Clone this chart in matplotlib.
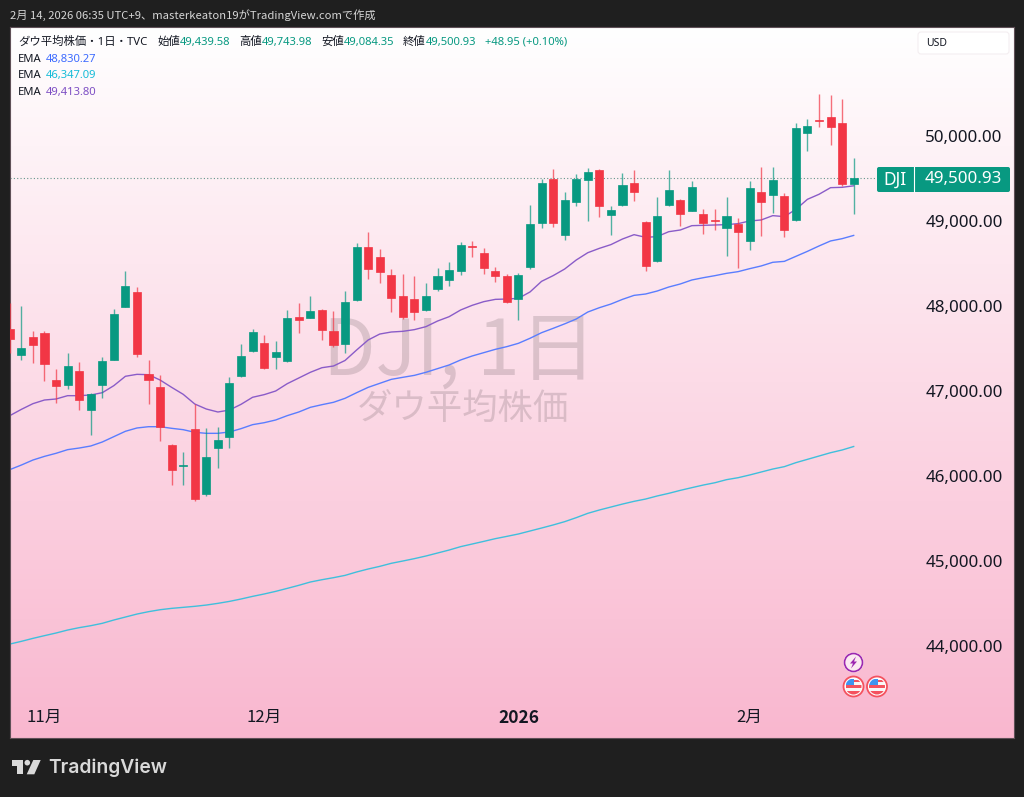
import matplotlib

matplotlib.use("Agg")
import matplotlib.pyplot as plt
import numpy as np
from matplotlib.patches import Circle, FancyBboxPatch, Polygon, Rectangle

opens = [47733, 47424, 47639, 47679, 47129, 47074, 47239, 46776, 47074, 47368,
         47992, 48161, 47204, 47047, 46365, 46118, 46549, 45788, 46333, 46462,
         47176, 47467, 47565, 47396, 47353, 47874, 47862, 47956, 47709, 47553,
         48067, 48698, 48576, 48365, 48114, 48082, 47953, 48196, 48302, 48412,
         48709, 48620, 48415, 48353, 48086, 48455, 48973, 49494, 48835, 49220,
         49482, 49600, 49071, 49185, 49451, 48992, 48529, 49185, 49247, 49121,
         49086, 49012, 48921, 48968, 48761, 49341, 49306, 49294, 49012, 50032,
         50188, 50227, 50156, 49439.58]
highs = [48032, 48000, 47706, 47700, 47255, 47444, 47341, 46980, 47396, 47961,
         48415, 48220, 47365, 47188, 46375, 46286, 46847, 46561, 46573, 47165,
         47553, 47733, 47659, 47585, 47953, 48032, 48118, 47965, 47941, 48180,
         48738, 48871, 48667, 48435, 48373, 48349, 48274, 48444, 48514, 48756,
         48768, 48686, 48455, 48376, 48385, 49192, 49494, 49608, 49338, 49553,
         49620, 49610, 49180, 49565, 49600, 49000, 49279, 49596, 49255, 49474,
         49138, 49138, 49279, 49032, 49467, 49639, 49632, 49326, 50149, 50204,
         50494, 50482, 50432, 49743.98]
lows = [47444, 47365, 47333, 47121, 46862, 47027, 46776, 46482, 46921, 47360,
        47985, 47396, 46851, 46415, 45894, 45894, 45709, 45768, 46091, 46326,
        47170, 47459, 47259, 47255, 47345, 47679, 47855, 47600, 47521, 47451,
        48060, 48321, 48274, 47933, 47847, 47835, 47945, 48180, 48239, 48368,
        48576, 48376, 48286, 48039, 47835, 48439, 48914, 48933, 48776, 49180,
        49000, 49047, 48835, 49180, 49235, 48412, 48520, 49180, 48945, 49115,
        48851, 48891, 48585, 48447, 48662, 48824, 49098, 48815, 49005, 49827,
        50106, 49891, 49412, 49084.35]
closes = [47615, 47502, 47545, 47318, 47062, 47294, 46894, 46968, 47353, 47909,
          48239, 47435, 47126, 46573, 46071, 46129, 45733, 46227, 46427, 47094,
          47412, 47698, 47271, 47459, 47862, 47835, 47941, 47718, 47541, 48044,
          48691, 48439, 48396, 48098, 47867, 47933, 48118, 48349, 48427, 48714,
          48698, 48444, 48353, 48044, 48365, 48961, 49447, 48980, 49247, 49491,
          49576, 49173, 49133, 49427, 49341, 48471, 49059, 49368, 49079, 49400,
          48980, 49004, 49055, 48874, 49392, 49224, 49486, 48891, 50098, 50121,
          50180, 50106, 49432, 49500.93]

ema_blue = [46075, 46129, 46188, 46231, 46267, 46310, 46329, 46353, 46400, 46463,
            46526, 46565, 46580, 46580, 46561, 46545, 46514, 46502, 46502, 46518,
            46557, 46604, 46627, 46659, 46710, 46753, 46808, 46839, 46867, 46914,
            46980, 47043, 47090, 47137, 47161, 47184, 47220, 47263, 47306, 47365,
            47412, 47451, 47490, 47522, 47561, 47620, 47686, 47737, 47790, 47847,
            47929, 47980, 48023, 48078, 48125, 48141, 48176, 48223, 48259, 48306,
            48333, 48357, 48384, 48404, 48439, 48471, 48514, 48525, 48584, 48643,
            48706, 48765, 48792, 48830.27]
ema_cyan = [44023, 44055, 44090, 44122, 44153, 44188, 44216, 44239, 44267, 44306,
            44341, 44376, 44404, 44427, 44443, 44455, 44467, 44482, 44502, 44525,
            44553, 44584, 44612, 44643, 44678, 44714, 44753, 44780, 44804, 44831,
            44871, 44906, 44937, 44973, 45000, 45028, 45059, 45094, 45129, 45169,
            45200, 45231, 45263, 45290, 45318, 45353, 45388, 45424, 45463, 45510,
            45561, 45600, 45635, 45670, 45702, 45729, 45765, 45796, 45831, 45863,
            45894, 45921, 45957, 45980, 46012, 46047, 46082, 46110, 46157, 46196,
            46235, 46274, 46306, 46347.09]
ema_purple = [46710, 46784, 46851, 46894, 46906, 46945, 46945, 46953, 46980, 47063,
              47173, 47196, 47192, 47129, 47043, 46961, 46847, 46788, 46753, 46776,
              46843, 46926, 46957, 47000, 47086, 47153, 47220, 47274, 47294, 47359,
              47482, 47600, 47670, 47694, 47702, 47722, 47757, 47823, 47874, 47953,
              48008, 48051, 48078, 48082, 48090, 48165, 48290, 48357, 48435, 48541,
              48627, 48678, 48722, 48788, 48839, 48808, 48816, 48874, 48894, 48945,
              48949, 48953, 48957, 48969, 49000, 49012, 49063, 49051, 49137, 49255,
              49314, 49392, 49396, 49413.80]

price_ticks = [44000, 45000, 46000, 47000, 48000, 49000, 50000]
month_positions = [3, 22, 44, 64]
month_labels = ["11月", "12月", "2026", "2月"]

header = "2月 14, 2026 06:35 UTC+9、masterkeaton19がTradingView.comで作成"
symbol_title = "ダウ平均株価・1日・TVC"
ohlc_names = ["始値", "高値", "安値", "終値"]
ohlc_values = ["49,439.58", "49,743.98", "49,084.35", "49,500.93"]
change_label = "+48.95 (+0.10%)"
ema_labels = ["48,830.27", "46,347.09", "49,413.80"]
last_price = closes[-1]

UP = "#089981"
DOWN = "#f23645"
BLUE = "#5a7dff"
CYAN = "#3fbfdc"
PURPLE = "#8a5cc8"
DARK = "#1f1f1f"
INK = "#131722"
CJK = ["Noto Sans CJK JP", "DejaVu Sans"]

plt.rcParams["font.family"] = ["Noto Sans", "Noto Sans CJK JP", "DejaVu Sans"]

fig = plt.figure(figsize=(10.24, 7.97), dpi=100, facecolor=DARK)
W, H = 1024, 797

# chart panel, pixel box 10..1014 / 27..738
ax = fig.add_axes([10 / W, 1 - 738 / H, 1004 / W, 711 / H])
gradient = np.linspace(0, 1, 256).reshape(-1, 1)
top = np.array([255, 255, 255]) / 255
bottom = np.array([249, 183, 207]) / 255
ax.imshow(
    top + gradient[:, :, None] * (bottom - top),
    extent=(0, 1, 0, 1),
    transform=ax.transAxes,
    aspect="auto",
    zorder=0,
)

x = np.arange(len(opens))
ax.plot(x, ema_cyan, color=CYAN, linewidth=1.0, zorder=2)
ax.plot(x, ema_blue, color=BLUE, linewidth=1.0, zorder=2)
ax.plot(x, ema_purple, color=PURPLE, linewidth=1.0, zorder=2)
ax.axhline(last_price, xmax=(877 - 10) / 1004, color="#3f7f72", linewidth=0.8, linestyle=(0, (1, 2)), alpha=0.8, zorder=2)

colors = [UP if c >= o else DOWN for o, c in zip(opens, closes)]
ax.vlines(x, lows, highs, colors=colors, linewidth=1.0, alpha=0.7, zorder=3)
ax.bar(
    x,
    np.abs(np.array(closes) - np.array(opens)),
    bottom=np.minimum(opens, closes),
    width=0.7,
    color=colors,
    edgecolor=colors,
    linewidth=0.5,
    zorder=4,
)

ax.set_xlim((10 - 9.8) / 11.56, (1014 - 9.8) / 11.56)
ax.set_ylim(42918, 51282)

ax.yaxis.tick_right()
ax.set_yticks(price_ticks)
ax.set_yticklabels([f"{p:,.2f}" for p in price_ticks], fontsize=12.2, color=INK, ha="right")
ax.tick_params(axis="y", length=0, pad=-8.2)
ax.set_xticks(month_positions)
ax.set_xticklabels(month_labels, fontsize=12, color=INK, family=CJK)
ax.get_xticklabels()[2].set_fontweight("bold")
ax.get_xticklabels()[2].set_fontsize(12.5)
ax.tick_params(axis="x", length=0, pad=-21, direction="in")
for spine in ax.spines.values():
    spine.set_color("#5f5057")
    spine.set_linewidth(0.8)

# watermark
ax.text(0.448, 0.542, "DJI, 1日", transform=ax.transAxes, fontsize=55, color="#000000", alpha=0.13,
        ha="center", va="center", zorder=1, family=CJK)
ax.text(0.4507, 0.4623, "ダウ平均株価", transform=ax.transAxes, fontsize=25.5, color="#000000", alpha=0.13,
        ha="center", va="center", zorder=1, family=CJK)

# everything around the plot sits on a pixel-sized overlay
over = fig.add_axes([0, 0, 1, 1], zorder=10)
over.set_xlim(0, W)
over.set_ylim(H, 0)
over.axis("off")
over.patch.set_alpha(0)

over.text(10, 15, header, fontsize=8.1, color="#d6d6d6", va="center", family=CJK)

over.text(18, 42, symbol_title, fontsize=8.2, color=INK, va="center")
for name, value, name_x in zip(ohlc_names, ohlc_values, [157, 239, 321, 403]):
    over.text(name_x, 42, name, fontsize=8.2, color=INK, va="center")
    over.text(name_x + 23, 42, value, fontsize=8.1, color=UP, va="center")
over.text(485, 42, change_label, fontsize=8.1, color=UP, va="center")

for label, color, row_y in zip(ema_labels, ["#3d6bff", "#16bcd8", "#7e4fc4"], [59, 75, 92]):
    over.text(18, row_y, "EMA", fontsize=8.1, color=INK, va="center")
    over.text(46, row_y, label, fontsize=8.1, color=color, va="center")

over.add_patch(FancyBboxPatch((918, 32), 91, 22, boxstyle="round,pad=0,rounding_size=3",
                              facecolor="white", edgecolor="#f4eef1", linewidth=0.8))
over.text(926, 43, "USD", fontsize=7.5, color=INK, va="center")

# last price tag
over.add_patch(FancyBboxPatch((877, 167), 133, 25, boxstyle="round,pad=0,rounding_size=2",
                              facecolor=UP, edgecolor="none"))
over.plot([913.5, 913.5], [167, 192], color="white", linewidth=0.8)
over.text(895, 179.5, "DJI", fontsize=12.5, color="white", ha="center", va="center")
over.text(1002, 179, f"{last_price:,.2f}", fontsize=12.2, color="white", ha="right", va="center")

# event markers
over.add_patch(Circle((853.5, 662.5), 10, facecolor="white", edgecolor="none"))
over.add_patch(Circle((853.5, 662.5), 9, facecolor="#fbe9f1", edgecolor="#9c27b0", linewidth=1.2))
over.add_patch(Polygon([(856, 656.5), (850, 663.5), (853, 663.5), (851, 668.5), (857, 661.5), (854, 661.5)],
                       closed=True, facecolor="#9c27b0", edgecolor="none"))
for cx in [853.5, 877]:
    over.add_patch(Circle((cx, 686.5), 10, facecolor="white", edgecolor="#f4525f", linewidth=1.3))
    clip = Circle((cx, 686.5), 8, transform=over.transData)
    parts = [
        Rectangle((cx - 8, 678.5), 16, 16, facecolor="#f7f7f7", edgecolor="none"),
        Rectangle((cx - 8, 684.5), 16, 3.5, facecolor="#f4525f", edgecolor="none"),
        Rectangle((cx - 8, 691), 16, 3.5, facecolor="#f4525f", edgecolor="none"),
        Rectangle((cx - 1, 679.5), 9, 2.5, facecolor="#f4525f", edgecolor="none"),
        Rectangle((cx - 8, 678.5), 8.5, 6.5, facecolor="#3d94f0", edgecolor="none"),
    ]
    for part in parts:
        over.add_patch(part)
        part.set_clip_path(clip)

# footer logo
logo = "#d9d9d9"
over.add_patch(Polygon([(11.7, 760), (22.7, 760), (22.7, 774.3), (16.7, 774.3), (16.7, 766), (11.7, 766)],
                       closed=True, facecolor=logo, edgecolor="none"))
over.add_patch(Circle((27.3, 762.7), 2.8, facecolor=logo, edgecolor="none"))
over.add_patch(Polygon([(33.3, 760), (40.7, 760), (34.3, 774.3), (26.7, 774.3)],
                       closed=True, facecolor=logo, edgecolor="none"))
over.text(48, 768, "TradingView", fontsize=13.9, color=logo, va="center", family="Inter", fontweight="semibold")

fig.savefig("out.png", dpi=100, facecolor=DARK)
